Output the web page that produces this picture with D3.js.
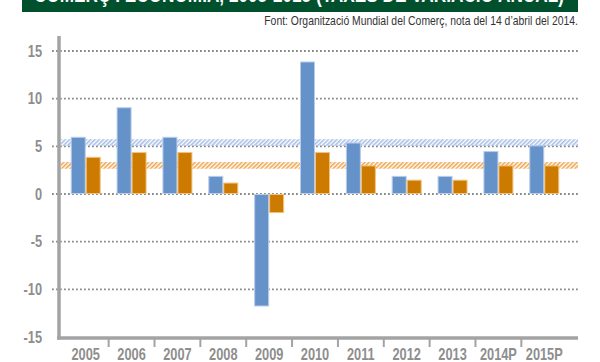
<!DOCTYPE html>
<html>
<head>
<meta charset="utf-8">
<script src="https://cdn.jsdelivr.net/npm/d3@7"></script>
<style>
  body { margin: 0; background: #fff; }
  svg { display: block; }
</style>
</head>
<body>
<script>
// dades (taxes de variació anual, %)
var years = ["2005", "2006", "2007", "2008", "2009", "2010", "2011", "2012", "2013", "2014P", "2015P"];
var trade = [6.0, 9.1, 6.0, 1.9, -11.8, 13.9, 5.4, 1.9, 1.9, 4.5, 5.1];
var gdp = [3.9, 4.4, 4.4, 1.2, -2.0, 4.4, 3.0, 1.5, 1.5, 3.0, 3.0];
var averages = [5.4, 3.0];
var yTicks = [-15, -10, -5, 0, 5, 10, 15];

var W = 600, H = 362;
var font = "'Liberation Sans', Arial, sans-serif";
var narrow = 0.8; // horizontal squeeze, narrow face look
var grey = "#8e8e8e";
var blue = "#6592c9", blueEdge = "#b8cceb", orange = "#cc7a00", orangeEdge = "#f2c27e";

var svg = d3.select("body").append("svg")
  .attr("width", W)
  .attr("height", H);

var defs = svg.append("defs");
function hatch(id, color) {
  var p = defs.append("pattern")
    .attr("id", id)
    .attr("patternUnits", "userSpaceOnUse")
    .attr("width", 3).attr("height", 3)
    .attr("patternTransform", "rotate(45)");
  p.append("rect").attr("width", 1.6).attr("height", 3).attr("fill", color);
}
hatch("hatchBlue", "#a7bfe8");
hatch("hatchOrange", "#f1a650");

function narrowText(sel, x, y) {
  return sel.append("text")
    .attr("transform", "translate(" + x + "," + y + ") scale(" + narrow + ",1)")
    .attr("font-family", font);
}

// title band (cut at the top)
svg.append("rect")
  .attr("x", 22).attr("y", 0)
  .attr("width", 556).attr("height", 12)
  .attr("fill", "#00502d");
svg.append("text")
  .attr("x", 34).attr("y", 1.5)
  .attr("textLength", 530)
  .attr("lengthAdjust", "spacingAndGlyphs")
  .attr("font-family", font)
  .attr("fill", "#fff")
  .attr("font-weight", "bold")
  .attr("font-size", 22)
  .text("COMERÇ I ECONOMIA, 2005-2015 (TAXES DE VARIACIÓ ANUAL)");

narrowText(svg, 578, 25)
  .attr("text-anchor", "end")
  .attr("fill", "#333")
  .attr("font-size", 13)
  .text("Font: Organització Mundial del Comerç, nota del 14 d’abril del 2014.");

var x0 = d3.scaleBand()
  .domain(years)
  .range([62.8, 567.2])
  .paddingInner(0.346)
  .paddingOuter(0.173);

var x1 = d3.scaleBand()
  .domain([0, 1])
  .range([0, x0.bandwidth()]);

var y = d3.scaleLinear()
  .domain([-15, 15])
  .range([337, 51]);

// gridlines
svg.append("g")
  .selectAll("line")
  .data(yTicks.filter(function(d) { return d > -15; }))
  .enter().append("line")
  .attr("x1", 52).attr("x2", 580)
  .attr("y1", function(d) { return y(d); })
  .attr("y2", function(d) { return y(d); })
  .attr("stroke", "#8a8a8a")
  .attr("stroke-width", 1.8)
  .attr("stroke-dasharray", "1.8,2.2");

// average bands (hatched)
svg.append("g")
  .selectAll("rect")
  .data(averages)
  .enter().append("rect")
  .attr("x", 61)
  .attr("width", 517)
  .attr("y", function(d) { return y(d + 0.35); })
  .attr("height", function(d) { return y(d - 0.35) - y(d + 0.35); })
  .attr("fill", function(d, i) { return i === 0 ? "url(#hatchBlue)" : "url(#hatchOrange)"; });

// bars
var series = [trade, gdp];
var groups = svg.append("g")
  .selectAll("g")
  .data(years)
  .enter().append("g")
  .attr("transform", function(d) { return "translate(" + x0(d) + ",0)"; });

groups.selectAll("rect")
  .data(function(d, i) { return series.map(function(s, k) { return { k: k, v: s[i] }; }); })
  .enter().append("rect")
  .attr("x", function(d) { return x1(d.k) + 0.5; })
  .attr("width", x1.bandwidth() - 1)
  .attr("y", function(d) { return y(Math.max(0, d.v)) + 0.5; })
  .attr("height", function(d) { return Math.abs(y(d.v) - y(0)) - 1; })
  .attr("fill", function(d) { return d.k === 0 ? blue : orange; })
  .attr("stroke", function(d) { return d.k === 0 ? blueEdge : orangeEdge; })
  .attr("stroke-width", 1);

// axes lines
svg.append("line")
  .attr("x1", 59).attr("x2", 59)
  .attr("y1", 36).attr("y2", 339.5)
  .attr("stroke", "#a3a3a3").attr("stroke-width", 3.5);
svg.append("line")
  .attr("x1", 57).attr("x2", 578)
  .attr("y1", 338).attr("y2", 338)
  .attr("stroke", "#a3a3a3").attr("stroke-width", 3.5);

// category separators
svg.append("g")
  .selectAll("line")
  .data(years.slice(0, years.length - 1))
  .enter().append("line")
  .attr("x1", function(d) { return x0(d) + x0.bandwidth() / 2 + x0.step() / 2; })
  .attr("x2", function(d) { return x0(d) + x0.bandwidth() / 2 + x0.step() / 2; })
  .attr("y1", 339).attr("y2", 347)
  .attr("stroke", "#a3a3a3").attr("stroke-width", 2);

// y labels
var yl = svg.append("g");
yTicks.forEach(function(d) {
  narrowText(yl, 42, y(d))
    .attr("dy", "0.35em")
    .attr("text-anchor", "end")
    .attr("fill", grey)
    .attr("font-weight", "bold")
    .attr("font-size", 16)
    .text(d);
});

// x labels
var xl = svg.append("g");
years.forEach(function(d) {
  narrowText(xl, x0(d) + x0.bandwidth() / 2, 360)
    .attr("text-anchor", "middle")
    .attr("fill", grey)
    .attr("font-weight", "bold")
    .attr("font-size", 16)
    .text(d);
});
</script>
</body>
</html>
